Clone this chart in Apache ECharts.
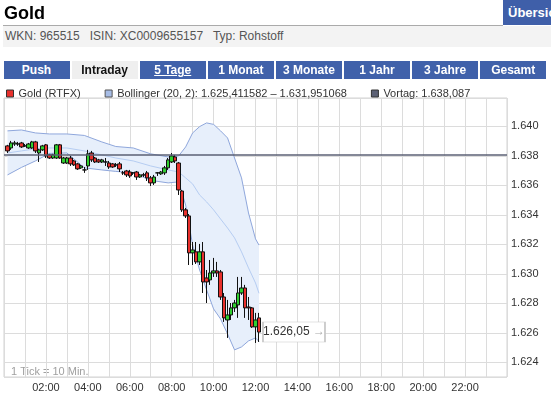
<!DOCTYPE html>
<html>
<head>
<meta charset="utf-8">
<script src="https://cdn.jsdelivr.net/npm/echarts@6.0.0/dist/echarts.min.js"></script>
<style>
body { margin: 0; width: 551px; height: 397px; overflow: hidden; background: #fff; position: relative; font-family: "Liberation Sans", Arial, sans-serif; }
#chart { position: absolute; left: 0; top: 0; width: 551px; height: 397px; }
.title { position: absolute; left: 4px; top: 3px; font-size: 18px; font-weight: bold; color: #000; }
.rule { position: absolute; left: 3px; top: 25px; width: 500px; height: 1px; background: #aaa; }
.btn { position: absolute; left: 503px; top: 0; width: 48px; height: 25px; background: #3f5fa9; color: #fff; font-weight: bold; font-size: 13px; line-height: 25px; padding-left: 5px; overflow: hidden; white-space: nowrap; box-sizing: border-box; }
.info { position: absolute; left: 3px; top: 26px; width: 548px; height: 21px; background: #f3f3f3; color: #555; font-size: 12px; line-height: 21px; padding-left: 2px; box-sizing: border-box; white-space: pre; }
.tab { position: absolute; top: 61px; width: 66px; height: 18px; line-height: 18px; text-align: center; font-size: 12px; font-weight: bold; color: #fff; background: #4061aa; }
.tab.on { background: #efefef; color: #111; }
.tab.u { text-decoration: underline; }
</style>
</head>
<body>
<div id="chart"></div>
<div class="title">Gold</div>
<div class="rule"></div>
<div class="btn">Übersicht</div>
<div class="info">WKN: 965515   ISIN: XC0009655157   Typ: Rohstoff</div>
<div id="tabs"></div>
<script>
// Reiter oben
var tabNames = ['Push', 'Intraday', '5 Tage', '1 Monat', '3 Monate', '1 Jahr', '3 Jahre', 'Gesamt'];

// Kurse: [open, close, low, high], 1 Tick = 10 Min. ab 00:10
var ohlc = [
  [1.63868, 1.63834, 1.63820, 1.63875], [1.63854, 1.63888, 1.63841, 1.63902], [1.63881, 1.63888, 1.63868, 1.63902],
  [1.63881, 1.63881, 1.63868, 1.63895], [1.63888, 1.63861, 1.63854, 1.63895], [1.63868, 1.63868, 1.63861, 1.63881],
  [1.63854, 1.63881, 1.63848, 1.63888], [1.63854, 1.63895, 1.63848, 1.63902], [1.63895, 1.63834, 1.63820, 1.63902],
  [1.63820, 1.63841, 1.63759, 1.63848], [1.63841, 1.63868, 1.63834, 1.63875], [1.63875, 1.63800, 1.63786, 1.63881],
  [1.63807, 1.63786, 1.63780, 1.63814], [1.63786, 1.63807, 1.63780, 1.63814], [1.63786, 1.63875, 1.63780, 1.63881],
  [1.63875, 1.63786, 1.63780, 1.63881], [1.63752, 1.63786, 1.63746, 1.63793], [1.63752, 1.63786, 1.63746, 1.63793],
  [1.63786, 1.63746, 1.63732, 1.63800], [1.63766, 1.63739, 1.63732, 1.63773], [1.63746, 1.63712, 1.63705, 1.63752],
  [1.63719, 1.63732, 1.63712, 1.63739], [1.63705, 1.63705, 1.63685, 1.63725], [1.63732, 1.63814, 1.63705, 1.63841],
  [1.63820, 1.63773, 1.63759, 1.63834], [1.63786, 1.63759, 1.63752, 1.63793], [1.63773, 1.63759, 1.63752, 1.63780],
  [1.63759, 1.63773, 1.63752, 1.63780], [1.63759, 1.63759, 1.63732, 1.63786], [1.63752, 1.63725, 1.63712, 1.63766],
  [1.63746, 1.63725, 1.63719, 1.63752], [1.63739, 1.63739, 1.63725, 1.63752], [1.63746, 1.63712, 1.63691, 1.63759],
  [1.63685, 1.63685, 1.63671, 1.63698], [1.63698, 1.63671, 1.63657, 1.63705], [1.63691, 1.63664, 1.63651, 1.63705],
  [1.63685, 1.63685, 1.63671, 1.63691], [1.63691, 1.63657, 1.63637, 1.63698], [1.63657, 1.63671, 1.63651, 1.63678],
  [1.63671, 1.63671, 1.63657, 1.63685], [1.63685, 1.63651, 1.63630, 1.63698], [1.63651, 1.63617, 1.63596, 1.63664],
  [1.63617, 1.63657, 1.63603, 1.63671], [1.63685, 1.63685, 1.63664, 1.63691], [1.63678, 1.63691, 1.63671, 1.63698],
  [1.63685, 1.63719, 1.63671, 1.63732], [1.63719, 1.63773, 1.63705, 1.63786], [1.63759, 1.63800, 1.63752, 1.63820],
  [1.63793, 1.63766, 1.63752, 1.63807],
  // Absturz ab ca. 08:20
  [1.63752, 1.63569, 1.63535, 1.63759], [1.63562, 1.63434, 1.63420, 1.63569], [1.63434, 1.63393, 1.63379, 1.63447],
  [1.63393, 1.63142, 1.63060, 1.63406], [1.63142, 1.63162, 1.63060, 1.63216], [1.63149, 1.63081, 1.63067, 1.63216],
  [1.63081, 1.63149, 1.63060, 1.63203], [1.63149, 1.62945, 1.62870, 1.63216], [1.62972, 1.62945, 1.62802, 1.63026],
  [1.62959, 1.63006, 1.62925, 1.63094], [1.63006, 1.63020, 1.62979, 1.63108], [1.63020, 1.63006, 1.62979, 1.63081],
  [1.63013, 1.62843, 1.62823, 1.63026], [1.62843, 1.62701, 1.62674, 1.62870], [1.62687, 1.62721, 1.62565, 1.62823],
  [1.62721, 1.62769, 1.62687, 1.62802], [1.62769, 1.62802, 1.62741, 1.62823], [1.62789, 1.62870, 1.62701, 1.62979],
  [1.62870, 1.62904, 1.62857, 1.62979], [1.62904, 1.62769, 1.62701, 1.62925], [1.62775, 1.62769, 1.62687, 1.62843],
  [1.62769, 1.62640, 1.62633, 1.62775], [1.62640, 1.62687, 1.62531, 1.62735], [1.62701, 1.62605, 1.62538, 1.62735]
];
// Zeit in Minuten seit 00:00 (1 Tick = 10 Min.)
var candleTimes = ohlc.map(function(d, i) { return (i + 1) * 10; });

// Bollinger (20, 2)
var bandTimes  = [10, 50, 90, 130, 180, 230, 280, 320, 370, 420, 470, 500, 520, 540, 560, 580, 600, 620, 640, 660, 680, 700, 720, 730];
var bandUpper  = [1.63970, 1.63976, 1.63956, 1.63949, 1.63949, 1.63939, 1.63895, 1.63864, 1.63854, 1.63814, 1.63793, 1.63800,
                  1.63861, 1.63956, 1.63999, 1.64024, 1.64014, 1.63970, 1.63922, 1.63786, 1.63651, 1.63413, 1.63237, 1.631951068];
var bandMiddle = [1.63820, 1.63834, 1.63848, 1.63854, 1.63854, 1.63834, 1.63807, 1.63786, 1.63766, 1.63732, 1.63705, 1.63691,
                  1.63651, 1.63610, 1.63535, 1.63488, 1.63434, 1.63372, 1.63311, 1.63244, 1.63149, 1.63040, 1.62938, 1.62868];
var bandLower  = [1.63671, 1.63722, 1.63766, 1.63817, 1.63820, 1.63719, 1.63705, 1.63695, 1.63685, 1.63634, 1.63617, 1.63624,
                  1.63467, 1.63196, 1.63026, 1.62891, 1.62762, 1.62694, 1.62592, 1.62484, 1.62504, 1.62545, 1.62565, 1.625411582];

var vortag = 1.638087;
var yMin = 1.623, yMax = 1.64193;

// deutsches Zahlenformat 1.626,05
function fmt(v, d) {
	var s = v.toFixed(d);
	return s.slice(0, 5) + ',' + s.slice(5);
}
function pad(n) { return (n < 10 ? '0' : '') + n; }

// Reiter bauen
var tabsHtml = '';
tabNames.forEach(function(t, i) {
	var cls = 'tab' + (i === 1 ? ' on' : '') + (i === 2 ? ' u' : '');
	tabsHtml += '<div class="' + cls + '" style="left:' + (3.5 + i * 68.1) + 'px">' + t + '</div>';
});
document.getElementById('tabs').innerHTML = tabsHtml;

var goldName = 'Gold (RTFX)';
var bollName = 'Bollinger (20, 2): ' + fmt(bandLower[bandLower.length - 1], 9) + ' – ' + fmt(bandUpper[bandUpper.length - 1], 9);
var vortagName = 'Vortag: ' + fmt(vortag, 6);

var last = ohlc.length - 1;
var lastClose = ohlc[last][1];

var candleData = ohlc.map(function(d, i) { return [candleTimes[i], d[0], d[1], d[2], d[3]]; });
function zip(xs, ys) { return xs.map(function(x, i) { return [x, ys[i]]; }); }

var font = '"Liberation Sans", Arial, sans-serif';
var myChart = echarts.init(document.getElementById('chart'));

var option = {
	animation: false,
	backgroundColor: '#fff',
	textStyle: { fontFamily: font },
	legend: {
		left: 6,
		top: 88,
		padding: 0,
		itemWidth: 7,
		itemHeight: 7,
		itemGap: 24,
		icon: 'rect',
		selectedMode: false,
		textStyle: { fontSize: 11, color: '#333', fontFamily: font },
		data: [
			{ name: goldName, itemStyle: { color: '#e8302c', borderColor: '#333', borderWidth: 1 } },
			{ name: bollName, itemStyle: { color: '#a7bde6', borderColor: '#555', borderWidth: 1 } },
			{ name: vortagName, itemStyle: { color: '#5b6074', borderColor: '#333', borderWidth: 1 } }
		]
	},
	grid: {
		left: 4, right: 44, top: 98, bottom: 20,
		show: true,
		borderColor: '#d2d2d2',
		borderWidth: 1,
		containLabel: false,
		outerBoundsMode: 'none'
	},
	xAxis: {
		type: 'value',
		min: 0,
		max: 1440,
		interval: 60,
		axisLine: { show: false },
		axisTick: { show: false },
		axisLabel: {
			color: '#333', fontSize: 11, margin: 5, fontFamily: font,
			formatter: function(v) {
				return (v % 120 === 0 && v > 0 && v < 1440) ? pad(v / 60) + ':00' : '';
			}
		},
		splitLine: { show: true, lineStyle: { color: '#dcdcdc', width: 1 } }
	},
	yAxis: {
		type: 'value',
		position: 'right',
		min: yMin,
		max: yMax,
		splitNumber: 10,
		axisLine: { show: false },
		axisTick: { show: false },
		axisLabel: {
			color: '#333', fontSize: 11, margin: 4, fontFamily: font,
			showMinLabel: false, showMaxLabel: false,
			formatter: function(v) { return v.toFixed(3); }
		},
		splitLine: { show: true, lineStyle: { color: '#dcdcdc', width: 1 } }
	},
	graphic: [{
		type: 'text', left: 11, top: 366, silent: true,
		style: { text: '1 Tick = 10 Min.', fill: '#a0a0a0', font: '11px ' + font }
	}],
	series: [{
		// Bollinger-Band Fläche
		name: bollName,
		type: 'custom',
		silent: true,
		z: 1,
		encode: { x: 0, y: 1 },
		data: [[bandTimes[0], bandUpper[0]]],
		renderItem: function(params, api) {
			var pts = [];
			for (var i = 0; i < bandTimes.length; i++) pts.push(api.coord([bandTimes[i], bandUpper[i]]));
			for (var j = bandTimes.length - 1; j >= 0; j--) pts.push(api.coord([bandTimes[j], bandLower[j]]));
			return { type: 'polygon', shape: { points: pts }, style: { fill: '#e7effb' } };
		}
	}, {
		name: bollName, type: 'line', silent: true, z: 2, symbol: 'none',
		data: zip(bandTimes, bandUpper),
		lineStyle: { color: '#8fa7dc', width: 1 }
	}, {
		name: bollName, type: 'line', silent: true, z: 2, symbol: 'none',
		data: zip(bandTimes, bandLower),
		lineStyle: { color: '#8fa7dc', width: 1 }
	}, {
		name: bollName, type: 'line', silent: true, z: 2, symbol: 'none',
		data: zip(bandTimes, bandMiddle),
		lineStyle: { color: '#b6cdf2', width: 1 }
	}, {
		// nur für die Legende
		name: vortagName, type: 'line', silent: true, symbol: 'none',
		data: []
	}, {
		name: goldName,
		type: 'candlestick',
		silent: true,
		z: 4,
		barWidth: 4,
		encode: { x: 0, y: [1, 2, 3, 4] },
		data: candleData,
		itemStyle: {
			color: '#2fcf2f', color0: '#e8302c',
			borderColor: '#111', borderColor0: '#111', borderWidth: 1
		},
		// Vortageslinie (precision sonst auf 2 Stellen gerundet)
		markLine: {
			silent: true,
			precision: 6,
			symbol: ['none', 'none'],
			label: { show: false },
			lineStyle: { color: '#5b6074', width: 1.5, type: 'solid' },
			emphasis: { disabled: true },
			data: [{ yAxis: vortag }]
		},
		markPoint: {
			silent: true,
			symbol: 'rect',
			symbolSize: [62, 20],
			symbolOffset: [35, 0],
			itemStyle: { color: '#fff', borderColor: '#c8c8c8', borderWidth: 1 },
			label: {
				show: true, position: 'inside',
				formatter: '{v|' + fmt(lastClose, 5) + '} {a|→}',
				rich: {
					v: { color: '#333', fontSize: 12, fontFamily: font },
					a: { color: '#aaa', fontSize: 12, fontFamily: font }
				}
			},
			data: [{ coord: [candleTimes[last], lastClose] }]
		}
	}]
};

myChart.setOption(option);
</script>
</body>
</html>
